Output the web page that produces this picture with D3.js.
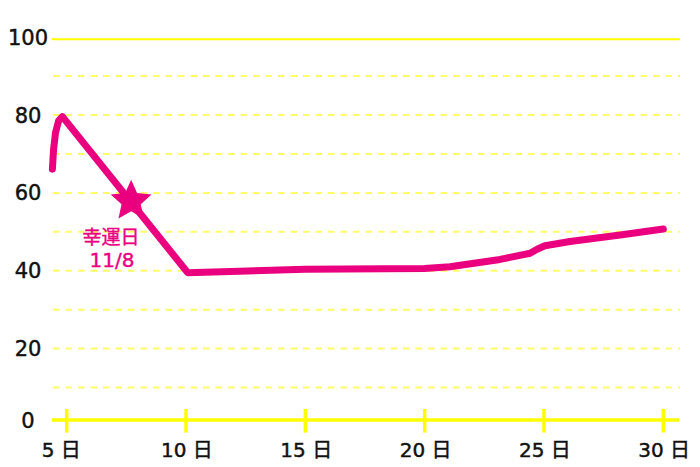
<!DOCTYPE html>
<html>
<head>
<meta charset="utf-8">
<script src="https://cdn.jsdelivr.net/npm/d3@7"></script>
<style>
  html, body { margin: 0; padding: 0; background: #fff; }
  svg { display: block; }
</style>
</head>
<body>
<svg id="chart" width="700" height="467"></svg>
<script>
// ---- data ----
const days   = [4.40, 4.45, 4.53, 4.66, 4.82, 10.07, 15.0, 20.0, 21.06, 23.16, 24.42, 24.71, 25.04, 26.09, 28.19, 30.0];
const values = [66.1, 71.2, 75.4, 78.5, 79.6, 39.5, 40.4, 40.6, 41.0, 42.9, 44.5, 45.5, 46.4, 47.5, 49.2, 50.7];
const xTicks = [5, 10, 15, 20, 25, 30];
const xTickLabels = ["5 日", "10 日", "15 日", "20 日", "25 日", "30 日"];
const yTicks = [0, 20, 40, 60, 80, 100];
const yGrid = [10, 20, 30, 40, 50, 60, 70, 80, 90];
const starDay = 7.7, starValue = 58;
const noteLines = ["幸運日", "11/8"];

// ---- scales ----
const x = d3.scaleLinear().domain([5, 30]).range([66.7, 663.3]);
const y = d3.scaleLinear().domain([0, 100]).range([426.4, 37.2]);
const xMin = 4.385, xMax = 30.7;

const svg = d3.select("#chart");
const pink = "#ea007f";
const yellow = "#ffff00";

// dashed gridlines
svg.append("g").selectAll("line").data(yGrid).join("line")
  .attr("x1", x(xMin) + 1).attr("x2", x(xMax))
  .attr("y1", d => y(d)).attr("y2", d => y(d))
  .attr("stroke", "#ffff66").attr("stroke-width", 2)
  .attr("stroke-dasharray", "6.5,6");

// top solid line
svg.append("line")
  .attr("x1", x(xMin)).attr("x2", x(xMax))
  .attr("y1", y(100) + 2).attr("y2", y(100) + 2)
  .attr("stroke", yellow).attr("stroke-width", 2);

// x axis line
const axisY = y(0) - 6.4;
svg.append("line")
  .attr("x1", x(xMin)).attr("x2", x(xMax) - 1)
  .attr("y1", axisY).attr("y2", axisY)
  .attr("stroke", yellow).attr("stroke-width", 3.5);

// x ticks
svg.append("g").selectAll("line").data(xTicks).join("line")
  .attr("x1", d => x(d)).attr("x2", d => x(d))
  .attr("y1", axisY - 11).attr("y2", axisY + 12.5)
  .attr("stroke", yellow).attr("stroke-width", 3.5);

// x tick labels
svg.append("g").selectAll("text").data(xTicks).join("text")
  .attr("x", d => x(d) - 25).attr("y", 457)
  .attr("text-anchor", "start")
  .attr("font-family", "'DejaVu Sans', 'Noto Sans CJK JP', sans-serif")
  .attr("font-size", 20).attr("fill", "#111")
  .attr("stroke", "#111").attr("stroke-width", 0.45)
  .text((d, i) => xTickLabels[i]);

// y tick labels
svg.append("g").selectAll("text").data(yTicks).join("text")
  .attr("x", 28)
  .attr("y", d => d === 0 ? axisY : y(d))
  .attr("dy", "0.36em")
  .attr("text-anchor", "middle")
  .attr("font-family", "'DejaVu Sans', sans-serif")
  .attr("font-size", 21).attr("fill", "#111")
  .attr("stroke", "#111").attr("stroke-width", 0.45)
  .text(d => d);

// line
const pts = days.map((d, i) => [d, values[i]]);
svg.append("path")
  .datum(pts)
  .attr("d", d3.line().x(d => x(d[0])).y(d => y(d[1])).curve(d3.curveLinear))
  .attr("fill", "none").attr("stroke", pink)
  .attr("stroke-width", 7).attr("stroke-linecap", "round").attr("stroke-linejoin", "round");

// star
const R = 21.5, r = R * 0.47;
const starPts = d3.range(10).map(i => {
  const a = -Math.PI / 2 + i * Math.PI / 5;
  const rr = i % 2 === 0 ? R : r;
  return [Math.cos(a) * rr, Math.sin(a) * rr];
});
svg.append("path")
  .attr("transform", `translate(${x(starDay)},${y(starValue) + 0.5})`)
  .attr("d", "M" + starPts.map(p => p.join(",")).join("L") + "Z")
  .attr("fill", pink);

// annotation (one text, two lines)
const note = svg.append("text")
  .attr("text-anchor", "middle")
  .attr("fill", pink)
  .attr("stroke", pink).attr("stroke-width", 0.4);
note.append("tspan")
  .attr("x", 111).attr("y", 243.5)
  .attr("font-family", "'Noto Sans CJK JP', sans-serif")
  .attr("font-size", 19)
  .text(noteLines[0]);
note.append("tspan")
  .attr("x", 112).attr("y", 266.5)
  .attr("font-family", "'DejaVu Sans', sans-serif")
  .attr("font-size", 20)
  .text(noteLines[1]);
</script>
</body>
</html>
